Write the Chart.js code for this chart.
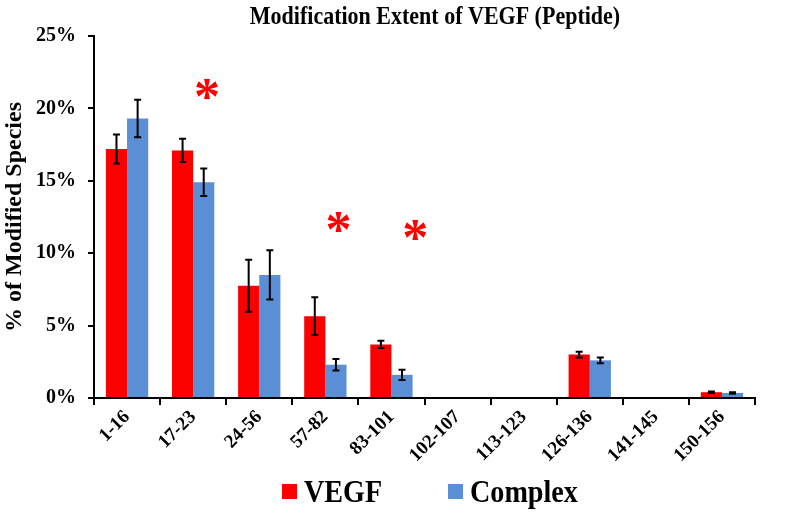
<!DOCTYPE html>
<html>
<head>
<meta charset="utf-8">
<script src="https://cdn.jsdelivr.net/npm/chart.js@4"></script>
<style>
  html, body { margin: 0; padding: 0; background: #fff; }
  #wrap { width: 800px; height: 518px; }
</style>
</head>
<body>
<div id="wrap"><canvas id="myChart" width="800" height="518"></canvas></div>
<script>
// peptide regions
const labels = ["1-16", "17-23", "24-56", "57-82", "83-101", "102-107", "113-123", "126-136", "141-145", "150-156"];
// % of modified species
const vegf = [17.2, 17.1, 7.75, 5.65, 3.7, 0, 0, 3.0, 0, 0.4];
const vegfErr = [1.0, 0.8, 1.8, 1.3, 0.25, 0, 0, 0.2, 0, 0.05];
const complex = [19.3, 14.9, 8.5, 2.3, 1.6, 0, 0, 2.6, 0, 0.35];
const complexErr = [1.3, 0.95, 1.7, 0.4, 0.35, 0, 0, 0.2, 0, 0.05];
// significance marks
const starCats = ["17-23", "57-82", "83-101"];
const starLevel = [21.4, 12.2, 11.7];
const yTicks = [0, 5, 10, 15, 20, 25];

const serif = "'Liberation Serif', 'Times New Roman', serif";
const titleText = "Modification Extent of VEGF (Peptide)";
const red = "#fa0000";
const blue = "#5a8fd6";

// the reference text looks a bit squeezed sideways
function squeezedText(ctx, txt, x, y, sx) {
  ctx.save();
  ctx.translate(x, y);
  ctx.scale(sx, 1);
  ctx.fillText(txt, 0, 0);
  ctx.restore();
}

// error bars drawn on top of the bars
const errorBars = {
  id: "errorBars",
  afterDatasetsDraw(chart) {
    const ctx = chart.ctx;
    const y = chart.scales.y;
    const errs = [vegfErr, complexErr];
    ctx.save();
    ctx.strokeStyle = "#000";
    ctx.lineWidth = 2;
    chart.data.datasets.forEach((ds, i) => {
      const meta = chart.getDatasetMeta(i);
      meta.data.forEach((bar, j) => {
        const v = ds.data[j];
        const e = errs[i][j];
        if (!v) return;
        const top = y.getPixelForValue(v + e);
        const bot = y.getPixelForValue(v - e);
        ctx.beginPath();
        ctx.moveTo(bar.x, top);
        ctx.lineTo(bar.x, bot);
        ctx.moveTo(bar.x - 3.5, top);
        ctx.lineTo(bar.x + 3.5, top);
        ctx.moveTo(bar.x - 3.5, bot);
        ctx.lineTo(bar.x + 3.5, bot);
        ctx.stroke();
      });
    });
    ctx.restore();
  },
};

// red asterisks, title and legend
const extras = {
  id: "extras",
  afterDraw(chart) {
    const ctx = chart.ctx;
    const xs = chart.scales.x;
    const ys = chart.scales.y;
    const shift = [0.21, 0.2, 0.36];
    ctx.save();
    ctx.fillStyle = "#ff0000";
    ctx.font = "bold 52px " + serif;
    ctx.textAlign = "center";
    ctx.textBaseline = "alphabetic";
    const w = xs.getPixelForValue(1) - xs.getPixelForValue(0);
    starCats.forEach((c, i) => {
      const idx = labels.indexOf(c);
      const px = xs.getPixelForValue(idx) + shift[i] * w;
      const py = ys.getPixelForValue(starLevel[i]);
      ctx.fillText("*", px, py + 26);
    });

    // title
    ctx.fillStyle = "#000";
    ctx.font = "bold 25px " + serif;
    ctx.textAlign = "center";
    squeezedText(ctx, titleText, 435, 24, 0.88);

    // legend
    ctx.textAlign = "left";
    ctx.font = "bold 32px " + serif;
    ctx.fillStyle = red;
    ctx.fillRect(282, 484, 15, 15);
    ctx.fillStyle = blue;
    ctx.fillRect(448, 484, 15, 15);
    ctx.fillStyle = "#000";
    squeezedText(ctx, "VEGF", 304, 502, 0.88);
    squeezedText(ctx, "Complex", 470, 502, 0.88);
    ctx.restore();
  },
};

const data = {
  labels: labels,
  datasets: [
    { label: "VEGF", data: vegf, backgroundColor: red },
    { label: "Complex", data: complex, backgroundColor: blue },
  ],
};

const config = {
  type: "bar",
  data: data,
  options: {
    responsive: false,
    animation: false,
    events: [],
    categoryPercentage: 0.64,
    barPercentage: 1.0,
    layout: { padding: { left: 0, right: 45, top: 36, bottom: 50 } },
    scales: {
      x: {
        grid: {
          drawOnChartArea: false,
          drawTicks: true,
          tickLength: 7,
          color: "#000",
          lineWidth: 2,
        },
        border: { color: "#000", width: 2 },
        ticks: {
          color: "#000",
          font: { family: serif, size: 19, weight: "bold" },
          minRotation: 45,
          maxRotation: 45,
          padding: 1,
        },
        afterFit: (s) => { s.height = 70; },
      },
      y: {
        min: 0,
        max: 25,
        afterBuildTicks: (s) => { s.ticks = yTicks.map((v) => ({ value: v })); },
        grid: {
          drawOnChartArea: false,
          drawTicks: true,
          tickLength: 6,
          color: "#000",
          lineWidth: 2,
        },
        border: { color: "#000", width: 2 },
        ticks: {
          color: "#000",
          font: { family: serif, size: 20, weight: "bold" },
          padding: 12,
          callback: (v) => v + "%",
        },
        title: {
          display: true,
          text: "% of Modified Species",
          color: "#000",
          font: { family: serif, size: 24, weight: "bold" },
          padding: { top: 0, bottom: 0 },
        },
        afterFit: (s) => { s.width = 94; },
      },
    },
    plugins: {
      title: { display: false },
      legend: { display: false },
      tooltip: { enabled: false },
    },
  },
  plugins: [errorBars, extras],
};

const myBarChart = new Chart(document.getElementById("myChart"), config);
</script>
</body>
</html>
